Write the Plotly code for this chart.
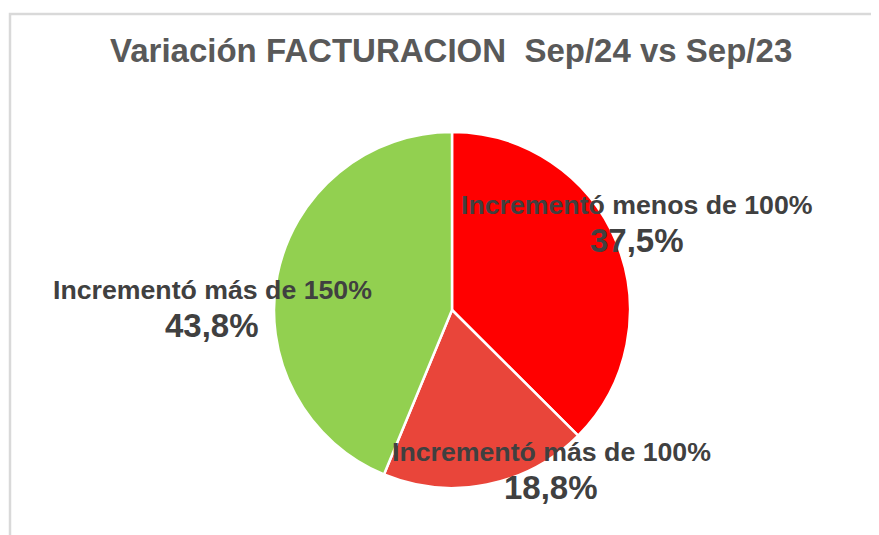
import plotly.graph_objects as go

# datos
categorias = ["Incrementó menos de 100%", "Incrementó más de 100%", "Incrementó más de 150%"]
porcentajes = [37.5, 18.8, 43.8]
colores = ["#FF0000", "#E9453A", "#92D050"]
titulo = "Variación FACTURACION  Sep/24 vs Sep/23"

W, H = 879, 535
OFF = 8  # margen del body de la pagina html

# posiciones de las etiquetas (pixeles en pantalla, centro del nombre)
pos_etiquetas = [(637, 205), (551, 452), (212, 290)]


def px_x(x):
    return (x - OFF) / W


def px_y(y):
    return 1 - (y - OFF) / H


cx, cy, r = 452, 310, 178

fig = go.Figure()
fig.add_trace(go.Pie(
    labels=categorias,
    values=porcentajes,
    sort=False,
    direction="clockwise",
    rotation=0,
    marker=dict(colors=colores, line=dict(color="white", width=2.5)),
    textinfo="none",
    hoverinfo="label+percent",
    showlegend=False,
    domain=dict(x=[px_x(cx - r), px_x(cx + r)],
                y=[px_y(cy + r), px_y(cy - r)]),
))

anotaciones = [dict(
    text=f"<b>{titulo}</b>", x=px_x(451), y=px_y(50), xref="paper", yref="paper",
    showarrow=False, xanchor="center", yanchor="middle",
    font=dict(family="Liberation Sans, Arial", size=33, color="#595959"),
)]
for nombre, valor, (ex, ey) in zip(categorias, porcentajes, pos_etiquetas):
    anotaciones.append(dict(
        text=f"<b>{nombre}</b>", x=px_x(ex), y=px_y(ey), xref="paper", yref="paper",
        showarrow=False, xanchor="center", yanchor="middle",
        font=dict(family="Liberation Sans, Arial", size=26.7, color="#404040"),
    ))
    anotaciones.append(dict(
        text=f"<b>{valor:.1f}%</b>".replace(".", ","), x=px_x(ex), y=px_y(ey + 35),
        xref="paper", yref="paper", showarrow=False, xanchor="center", yanchor="middle",
        font=dict(family="Liberation Sans, Arial", size=33, color="#404040"),
    ))

fig.update_layout(
    width=W, height=H,
    margin=dict(l=0, r=0, t=0, b=0),
    paper_bgcolor="white",
    plot_bgcolor="white",
    annotations=anotaciones,
    shapes=[dict(type="rect", xref="paper", yref="paper",
                 x0=px_x(10), x1=1.05, y0=-0.05, y1=px_y(14),
                 line=dict(color="#D9D9D9", width=2.5))],
)

fig.write_html("out.html")
